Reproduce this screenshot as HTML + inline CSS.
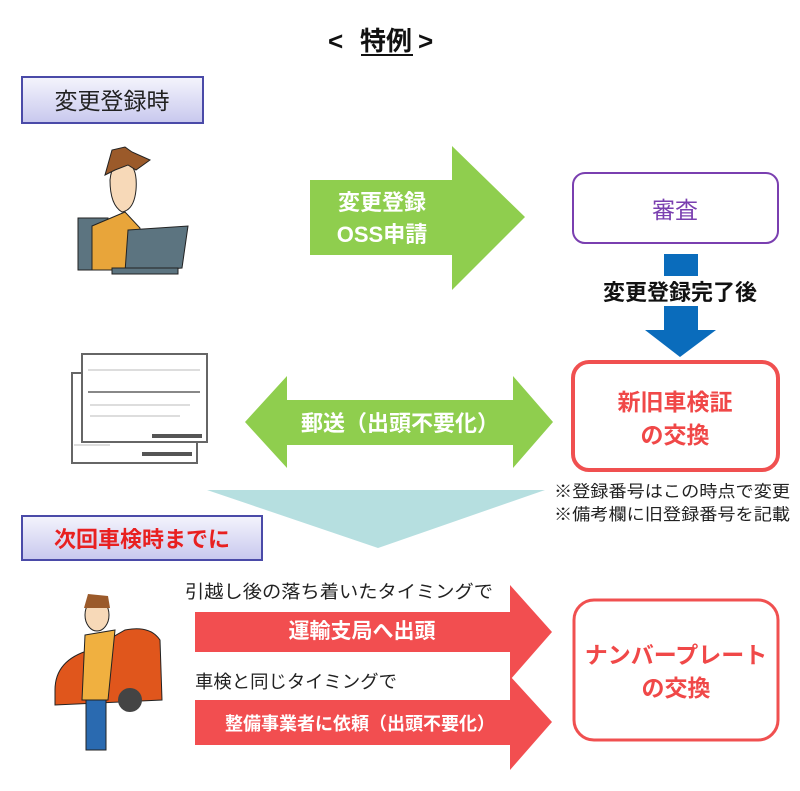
<!DOCTYPE html>
<html><head><meta charset="utf-8"><style>
body{margin:0;background:#fff;}
svg{display:block;font-family:"Liberation Sans","Noto Sans CJK JP",sans-serif;}
</style></head><body>
<svg width="800" height="791" viewBox="0 0 800 791" xmlns="http://www.w3.org/2000/svg">
<defs>
<linearGradient id="lav" x1="0" y1="0" x2="0" y2="1"><stop offset="0" stop-color="#f4f4fc"/><stop offset="1" stop-color="#c8c8ee"/></linearGradient>
</defs>
<text x="328" y="50" font-size="26" font-weight="bold" fill="#111">&lt;</text>
<text x="360" y="50" font-size="26" font-weight="bold" fill="#111">特例</text>
<line x1="361" y1="55" x2="413" y2="55" stroke="#111" stroke-width="2"/>
<text x="418" y="50" font-size="26" font-weight="bold" fill="#111">&gt;</text>

<rect x="22" y="77" width="181" height="46" fill="url(#lav)" stroke="#4a4aa8" stroke-width="2"/>
<text x="112" y="109" font-size="23" fill="#222" text-anchor="middle">変更登録時</text>

<rect x="78" y="218" width="30" height="52" fill="#5c7480" stroke="#222"/>
<path d="M92 226 L125 212 L140 228 L135 270 L92 270 Z" fill="#e8a53a" stroke="#222"/>
<path d="M110 180 Q112 160 125 162 Q138 165 136 190 Q134 210 122 212 Q110 205 110 180Z" fill="#f7d9b8" stroke="#222"/>
<path d="M105 175 L112 150 L125 147 L132 152 L150 160 L136 170 L128 165 L115 170 Z" fill="#9b5a2a" stroke="#222"/>
<path d="M128 230 L188 226 L182 268 L125 272 Z" fill="#5c7480" stroke="#222"/>
<rect x="112" y="268" width="66" height="6" fill="#5c7480" stroke="#222"/>

<polygon points="310,180 452,180 452,146 525,217 452,290 452,255 310,255" fill="#8fce4e"/>
<text x="382" y="210" font-size="22" font-weight="bold" fill="#fff" text-anchor="middle">変更登録</text>
<text x="382" y="242" font-size="22" font-weight="bold" fill="#fff" text-anchor="middle">OSS申請</text>

<rect x="573" y="173" width="205" height="70" rx="12" fill="#fff" stroke="#7a3fb0" stroke-width="2"/>
<text x="675" y="218" font-size="23" fill="#7a3fb0" text-anchor="middle">審査</text>

<rect x="664" y="254" width="34" height="76" fill="#0a6cbc"/>
<polygon points="645,330 716,330 680,357" fill="#0a6cbc"/>
<rect x="588" y="276" width="184" height="30" fill="#fff"/>
<text x="680" y="300" font-size="22" font-weight="bold" fill="#111" text-anchor="middle">変更登録完了後</text>

<rect x="573" y="362" width="205" height="108" rx="16" fill="#fff" stroke="#f05050" stroke-width="4"/>
<text x="675" y="410" font-size="23" font-weight="bold" fill="#f04848" text-anchor="middle">新旧車検証</text>
<text x="675" y="443" font-size="23" font-weight="bold" fill="#f04848" text-anchor="middle">の交換</text>

<rect x="72" y="373" width="125" height="90" fill="#fff" stroke="#666" stroke-width="2"/>
<rect x="82" y="354" width="125" height="88" fill="#fff" stroke="#666" stroke-width="2"/>
<g stroke="#bbb" stroke-width="1">
<line x1="88" y1="370" x2="200" y2="370"/><line x1="88" y1="392" x2="200" y2="392" stroke="#888" stroke-width="2"/>
<line x1="90" y1="405" x2="190" y2="405"/><line x1="90" y1="416" x2="180" y2="416"/>
<line x1="74" y1="445" x2="110" y2="445"/>
</g>
<rect x="152" y="434" width="50" height="4" fill="#555"/>
<rect x="142" y="452" width="50" height="4" fill="#555"/>

<polygon points="245,422 287,376 287,400 513,400 513,376 553,422 513,468 513,445 287,445 287,468" fill="#8fce4e"/>
<text x="400" y="431" font-size="22" font-weight="bold" fill="#fff" text-anchor="middle">郵送（出頭不要化）</text>

<text x="554" y="497" font-size="16.5" fill="#222" textLength="236" lengthAdjust="spacingAndGlyphs">※登録番号はこの時点で変更</text>
<text x="554" y="520" font-size="16.5" fill="#222" textLength="236" lengthAdjust="spacingAndGlyphs">※備考欄に旧登録番号を記載</text>

<polygon points="207,490 545,490 378,548" fill="#b6dfe0"/>

<rect x="22" y="516" width="240" height="44" fill="url(#lav)" stroke="#4a4aa8" stroke-width="2"/>
<text x="142" y="547" font-size="22" font-weight="bold" fill="#e82020" text-anchor="middle">次回車検時までに</text>

<path d="M55 690 Q55 660 90 650 L125 630 Q150 625 160 640 L162 700 L55 705Z" fill="#e0561c" stroke="#222"/>
<circle cx="130" cy="700" r="12" fill="#444"/>
<path d="M85 635 L115 630 L108 700 L82 700Z" fill="#f0b040" stroke="#222"/>
<rect x="86" y="700" width="20" height="50" fill="#2a6ab0" stroke="#222"/>
<ellipse cx="97" cy="615" rx="12" ry="16" fill="#f7d9b8" stroke="#222"/>
<path d="M84 608 L88 594 L108 596 L110 608Z" fill="#9b5a2a"/>

<text x="185" y="598" font-size="18" fill="#222" textLength="308" lengthAdjust="spacingAndGlyphs">引越し後の落ち着いたタイミングで</text>
<polygon points="195,612 510,612 510,585 552,632 510,680 510,652 195,652" fill="#f24e50"/>
<text x="362" y="638" font-size="21" font-weight="bold" fill="#fff" text-anchor="middle">運輸支局へ出頭</text>
<text x="195" y="688" font-size="18" fill="#222" textLength="202" lengthAdjust="spacingAndGlyphs">車検と同じタイミングで</text>
<polygon points="195,700 510,700 510,676 552,722 510,770 510,745 195,745" fill="#f24e50"/>
<text x="360" y="730" font-size="18" font-weight="bold" fill="#fff" text-anchor="middle">整備事業者に依頼（出頭不要化）</text>

<rect x="574" y="600" width="204" height="140" rx="20" fill="#fff" stroke="#f05050" stroke-width="3"/>
<text x="676" y="663" font-size="23" font-weight="bold" fill="#f04848" text-anchor="middle">ナンバープレート</text>
<text x="676" y="696" font-size="23" font-weight="bold" fill="#f04848" text-anchor="middle">の交換</text>
</svg>
</body></html>
